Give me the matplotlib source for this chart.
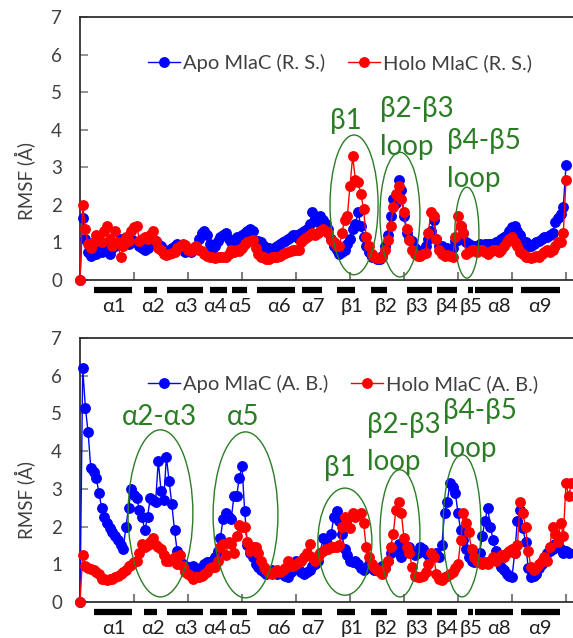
import numpy as np
import matplotlib
matplotlib.use("Agg")
import matplotlib.pyplot as plt
from matplotlib.patches import Ellipse
import matplotlib.transforms as mtransforms

plt.rcParams['font.family'] = ['Lato', 'Noto Sans', 'DejaVu Sans']

# ---------------- data ----------------
apo_rs = [
    0, 1.65, 1.1, 0.75, 0.65, 0.75, 0.7, 0.8, 0.75, 0.85,
    0.8, 0.7, 0.85, 0.9, 1.0, 1.1, 1.05, 1.0, 0.95, 1.1,
    1.05, 1.0, 0.9, 0.85, 0.8, 0.85, 0.95, 1.1, 1.05, 0.95,
    0.9, 0.8, 0.75, 0.8, 0.85, 0.9, 0.95, 0.9, 0.8, 0.75,
    0.8, 0.75, 0.8, 0.9, 1.1, 1.25, 1.3, 1.2, 0.95, 0.8,
    0.9, 1.05, 1.15, 1.2, 1.25, 1.1, 1.0, 1.05, 1.15, 1.1,
    1.2, 1.25, 1.3, 1.35, 1.3, 1.05, 1.05, 1.0, 0.9, 0.85,
    0.85, 0.8, 0.85, 0.9, 0.95, 1.0, 1.05, 1.1, 1.15, 1.2,
    1.2, 1.1, 1.25, 1.3, 1.35, 1.5, 1.8, 1.6, 1.55, 1.7,
    1.6, 1.5, 1.35, 1.1, 0.9, 0.8, 0.7, 0.75, 0.8, 0.95,
    1.1, 1.35, 1.5, 1.8, 1.45, 1.15, 0.9, 0.75, 0.62, 0.6,
    0.55, 0.55, 0.65, 0.9, 1.2, 1.7, 2.15, 2.05, 2.65, 2.4,
    1.7, 1.25, 1.1, 1.05, 0.85, 0.7, 0.75, 0.8, 0.9, 1.1,
    1.3, 1.6, 1.1, 0.9, 0.9, 0.85, 0.85, 0.8, 0.85, 1.05,
    1.07, 1.45, 1.25, 1.0, 0.95, 0.9, 0.9, 0.9, 0.95, 0.9,
    0.95, 0.95, 0.95, 0.95, 1.0, 1.05, 1.1, 1.15, 1.2, 1.3,
    1.4, 1.45, 1.3, 1.2, 1.05, 1.0, 0.9, 0.9, 0.95, 1.0,
    1.05, 1.1, 1.15, 1.15, 1.2, 1.25, 1.55, 1.65, 1.75, 1.95, 3.05,
]
holo_rs = [
    0, 2.0, 1.35, 0.95, 0.85, 1.0, 1.2, 1.1, 1.0, 1.3,
    1.45, 1.1, 0.9, 1.3, 1.0, 0.62, 0.9, 1.15, 1.05, 1.3,
    1.4, 1.45, 1.05, 1.1, 1.15, 1.1, 1.2, 1.3, 1.05, 0.85,
    0.8, 0.7, 0.67, 0.7, 0.71, 0.75, 0.85, 0.9, 0.95, 0.94,
    0.8, 0.76, 0.85, 0.9, 0.8, 0.76, 0.7, 0.65, 0.62, 0.6,
    0.58, 0.6, 0.62, 0.6, 0.62, 0.7, 0.8, 0.75, 0.8, 0.76,
    0.85, 0.95, 1.0, 1.05, 1.07, 0.85, 0.7, 0.62, 0.6, 0.55,
    0.55, 0.6, 0.62, 0.6, 0.65, 0.7, 0.72, 0.75, 0.78, 0.8,
    0.8, 0.8, 1.0, 1.1, 1.15, 1.2, 1.25, 1.2, 1.25, 1.3,
    1.35, 1.3, 1.25, 1.07, 1.0, 0.9, 0.9, 1.25, 1.6, 1.7,
    2.5, 3.3, 2.65, 2.6, 2.3, 1.9, 1.15, 0.9, 0.7, 0.62,
    0.58, 0.58, 0.6, 0.8, 1.07, 1.45, 1.95, 2.3, 2.5, 2.15,
    1.8, 1.35, 1.07, 0.8, 0.7, 0.65, 0.65, 0.7, 0.72, 1.25,
    1.8, 1.7, 1.1, 0.8, 0.7, 0.65, 0.66, 0.65, 0.62, 1.15,
    1.7, 1.45, 1.25, 0.7, 0.75, 0.8, 0.8, 0.75, 0.8, 0.8,
    0.75, 0.7, 0.75, 0.8, 0.8, 0.75, 0.8, 0.9, 1.0, 1.1,
    1.15, 1.0, 0.9, 0.75, 0.7, 0.6, 0.6, 0.58, 0.6, 0.65,
    0.6, 0.7, 0.75, 0.8, 0.75, 0.8, 0.9, 1.0, 1.0, 1.25, 2.65,
]
apo_ab = [
    0, 6.2, 5.15, 4.5, 3.55, 3.45, 3.3, 2.9, 2.5, 2.25,
    2.1, 1.95, 1.85, 1.75, 1.65, 1.5, 1.4, 2.0, 2.5, 3.0,
    2.85, 2.75, 2.45, 2.25, 1.9, 2.25, 2.75, 2.7, 2.65, 3.75,
    2.95, 2.7, 3.85, 3.2, 2.6, 1.9, 1.35, 1.1, 1.0, 0.95,
    0.93, 0.9, 0.95, 0.9, 0.85, 0.9, 1.0, 1.05, 1.0, 1.1,
    1.2, 1.35, 1.7, 2.2, 2.35, 2.25, 2.2, 2.8, 2.8, 3.3,
    3.6, 2.4, 1.5, 1.3, 1.2, 1.0, 0.93, 0.85, 0.8, 0.75,
    0.8, 0.85, 0.8, 0.75, 0.8, 0.75, 0.7, 0.66, 0.8, 0.95,
    1.1, 0.85, 0.8, 0.75, 0.8, 0.85, 0.95, 1.0, 1.1, 1.3,
    1.7, 1.65, 1.5, 1.8, 2.25, 2.4, 2.15, 1.8, 1.4, 1.25,
    1.1, 1.05, 1.1, 1.0, 0.9, 0.85, 0.9, 1.0, 0.9, 0.85,
    0.85, 0.9, 0.95, 0.9, 1.1, 1.3, 1.4, 1.35, 1.55, 1.2,
    1.3, 1.4, 1.45, 1.3, 1.25, 1.3, 1.45, 1.4, 1.3, 1.25,
    1.2, 1.25, 1.3, 1.2, 1.5, 2.35, 2.65, 3.15, 3.05, 2.9,
    2.35, 1.9, 1.65, 1.4, 1.2, 1.1, 1.05, 1.1, 1.3, 1.75,
    2.15, 2.5, 2.0, 1.65, 1.35, 1.2, 0.93, 0.85, 0.75, 0.7,
    0.66, 1.3, 2.15, 2.45, 1.95, 1.6, 0.9, 0.66, 0.7, 0.75,
    0.9, 1.0, 1.15, 1.3, 1.35, 1.4, 1.55, 1.5, 1.4, 1.3, 1.35, 1.3,
]
holo_ab = [
    0, 1.25, 0.95, 0.9, 0.88, 0.85, 0.8, 0.75, 0.62, 0.6,
    0.58, 0.6, 0.62, 0.66, 0.7, 0.75, 0.8, 0.85, 0.95, 0.97,
    1.05, 1.1, 1.3, 1.55, 1.45, 1.5, 1.6, 1.7, 1.5, 1.45,
    1.4, 1.25, 1.1, 1.1, 1.15, 1.2, 1.0, 1.25, 0.95, 0.8,
    0.75, 0.7, 0.62, 0.65, 0.67, 0.7, 0.75, 0.8, 0.9, 0.93,
    0.94, 1.1, 1.47, 1.55, 1.25, 1.6, 1.55, 1.3, 1.75, 2.05,
    2.0, 2.0, 1.6, 1.35, 1.45, 1.45, 1.3, 1.1, 0.94, 0.85,
    0.77, 0.75, 0.8, 0.85, 0.8, 0.85, 0.9, 1.1, 0.95, 0.95,
    1.0, 1.05, 1.1, 1.2, 1.3, 1.55, 1.2, 1.1, 1.2, 1.3,
    1.35, 1.4, 1.4, 1.45, 1.45, 1.45, 1.5, 2.0, 2.25, 2.2,
    1.95, 2.35, 2.25, 2.3, 2.35, 2.1, 1.45, 1.2, 1.0, 0.93,
    0.85, 0.8, 0.75, 0.9, 1.1, 1.45, 1.8, 2.45, 2.65, 2.35,
    1.7, 1.45, 1.3, 0.93, 0.7, 0.66, 0.66, 0.7, 0.8, 1.0,
    1.3, 1.2, 0.75, 0.6, 0.58, 0.65, 0.7, 0.75, 0.8, 0.9,
    1.0, 1.65, 2.35, 2.1, 1.85, 1.4, 1.2, 1.1, 1.05, 1.0,
    1.05, 1.0, 1.1, 1.2, 1.1, 1.2, 1.25, 1.2, 1.3, 1.35,
    1.4, 1.3, 1.5, 2.65, 2.35, 2.0, 1.35, 0.93, 0.85, 0.9,
    1.0, 1.1, 1.2, 1.1, 1.45, 2.0, 1.8, 1.6, 2.1, 1.75, 3.15, 2.8, 3.15,
]

# secondary structure elements (residue ranges)
ss_labels = ['α1', 'α2', 'α3', 'α4', 'α5', 'α6', 'α7', 'β1', 'β2', 'β3', 'β4', 'β5', 'α8', 'α9']
ss_start = [5.2, 23.7, 32.2, 48.1, 56.3, 65.6, 82.2, 95.2, 107.8, 121.1, 132.2, 143.7, 146.3, 163.3]
ss_end = [19.3, 28.5, 45.6, 54.4, 61.9, 79.6, 89.6, 101.9, 113.7, 130.4, 139.6, 145.6, 160.4, 177.8]
ss_label_x = [12.6, 27.0, 39.3, 50.0, 59.3, 73.7, 86.3, 100.7, 113.3, 125.0, 136.0, 144.8, 155.2, 170.4]

legend_rs = ['Apo MlaC (R. S.)', 'Holo MlaC (R. S.)']
legend_ab = ['Apo MlaC (A. B.)', 'Holo MlaC (A. B.)']

# highlighted regions: (text lines, text x, text y top line, ha, ellipse centre x, centre y, width, height)
regions_rs = [
    (['β1'], 98.5, 4.23, 'center', 101.5, 2.0, 17.8, 3.72),
    (['β2-β3', 'loop'], 111.1, 4.55, 'left', 118.5, 1.74, 14.8, 3.32),
    (['β4-β5', 'loop'], 135.9, 3.70, 'left', 143.3, 1.26, 8.9, 2.42),
]
regions_ab = [
    (['α2-α3'], 29.6, 4.9, 'center', 29.8, 2.35, 24.0, 4.43),
    (['α5'], 60.4, 4.9, 'center', 61.3, 2.31, 24.0, 4.40),
    (['β1'], 96.3, 3.55, 'center', 98.1, 1.60, 20.0, 2.84),
    (['β2-β3', 'loop'], 106.3, 4.70, 'left', 118.5, 1.82, 14.8, 3.37),
    (['β4-β5', 'loop'], 134.4, 5.07, 'left', 141.5, 2.02, 14.0, 3.77),
]

BLUE = '#0000FF'
RED = '#FF0000'
GREEN = '#2b7d25'
DARK = '#404040'

W, H = 573, 638
fig = plt.figure(figsize=(W / 100, H / 100), dpi=100)

x_left = 80
x_max = (W - x_left) / 2.7


def make_panel(rect, apo, holo, leg, regions):
    ax = fig.add_axes(rect)
    xa = np.arange(len(apo))
    xh = np.arange(len(holo))
    ax.plot(xa, apo, '-o', color=BLUE, lw=1.0, ms=6.8, label=leg[0], clip_on=False, zorder=3)
    ax.plot(xh, holo, '-o', color=RED, lw=1.0, ms=6.8, label=leg[1], clip_on=False, zorder=4)
    ax.set_xlim(0, x_max)
    ax.set_ylim(0, 7)
    ax.set_xticks(np.arange(20, 181, 20))
    ax.set_xticklabels([])
    ax.set_yticks(range(0, 8))
    ax.tick_params(axis='y', direction='in', length=6, width=1.2, color='#808080',
                   labelsize=13.5, labelcolor=DARK, pad=13)
    ax.tick_params(axis='x', direction='in', length=6, width=1.5, color='#808080')
    ax.spines['right'].set_visible(False)
    for s in ['left', 'bottom', 'top']:
        ax.spines[s].set_color('#303030')
        ax.spines[s].set_linewidth(1.3)
    trans = mtransforms.blended_transform_factory(ax.transData, ax.transAxes)
    for lab, s0, s1, lx in zip(ss_labels, ss_start, ss_end, ss_label_x):
        ax.plot([s0, s1], [-0.038, -0.038], color='black', lw=4.5, solid_capstyle='butt',
                transform=trans, clip_on=False)
        ax.text(lx, -0.1, lab, transform=trans, ha='center', va='center', fontsize=14.5,
                color='#202020')
    for lines, tx, ty, ha, ex, ey, ew, eh in regions:
        ax.add_patch(Ellipse((ex, ey), ew, eh, fill=False, edgecolor=GREEN, lw=1.0, zorder=5))
        for i, line in enumerate(lines):
            ax.text(tx, ty - i * 1.0, line, ha=ha, va='center', fontsize=20, color=GREEN)
    lg = ax.legend(loc='center left', bbox_to_anchor=(0.138, 0.825), ncol=2, frameon=False,
                   fontsize=14.5, handlelength=1.6, handletextpad=0.15, columnspacing=1.1,
                   borderpad=0, borderaxespad=0, markerscale=1.0)
    for t in lg.get_texts():
        t.set_color(DARK)
    return ax


ax1 = make_panel([x_left / W, (H - 280) / H, (W - x_left) / W, 263 / H], apo_rs, holo_rs, legend_rs, regions_rs)
ax2 = make_panel([x_left / W, (H - 602) / H, (W - x_left) / W, 264 / H], apo_ab, holo_ab, legend_ab, regions_ab)

fig.text(25 / W, 1 - 181 / H, 'RMSF (Å)', rotation=90, ha='center', va='center', fontsize=13.5, color=DARK)
fig.text(25 / W, 1 - 500 / H, 'RMSF (Å)', rotation=90, ha='center', va='center', fontsize=13.5, color=DARK)

fig.savefig('out.png', dpi=100)
